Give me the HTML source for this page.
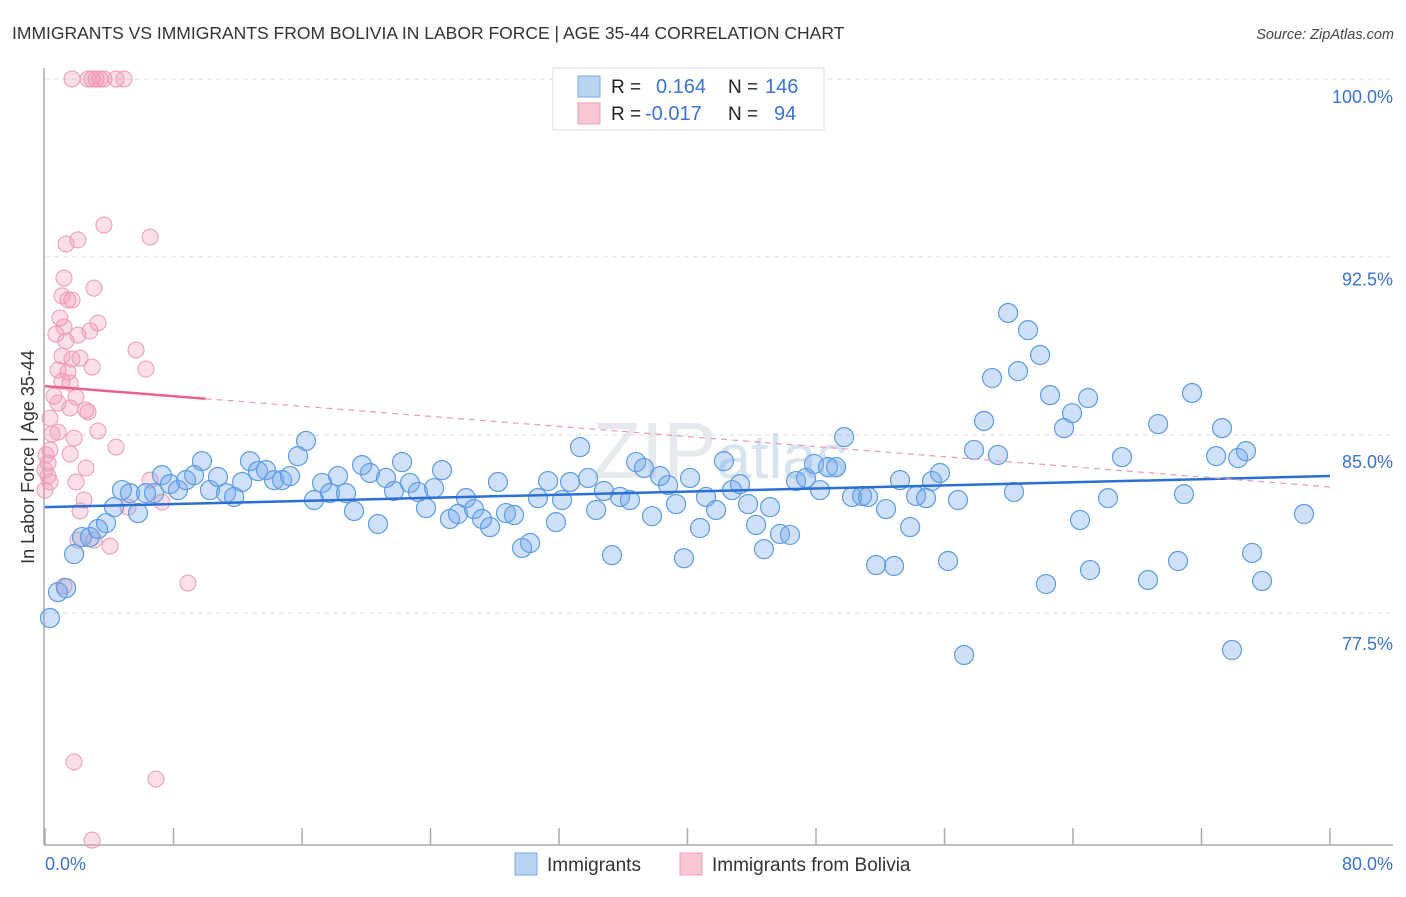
<!DOCTYPE html>
<html><head><meta charset="utf-8"><style>
body{margin:0;background:#fff;font-family:"Liberation Sans",sans-serif}
svg text{font-family:"Liberation Sans",sans-serif}
</style></head><body>
<svg id="chart" width="1406" height="892" viewBox="0 0 1406 892" xmlns="http://www.w3.org/2000/svg">
<text x="12" y="39" font-size="17.5" fill="#333">IMMIGRANTS VS IMMIGRANTS FROM BOLIVIA IN LABOR FORCE | AGE 35-44 CORRELATION CHART</text>
<text x="1394" y="39" font-size="14.5" fill="#444" text-anchor="end" font-style="italic">Source: ZipAtlas.com</text>
<text x="720" y="478" font-size="80" fill="#e6e9ee" text-anchor="middle" font-family="Liberation Serif">ZIP<tspan font-family="Liberation Sans" font-size="62" fill="#d6e4f2">atlas</tspan></text>
<g id="grid"></g>
<g id="axes"></g>
<g id="pink"></g>
<g id="blue"></g>
<g id="trends"></g>
<text transform="translate(34,457) rotate(-90)" font-size="18" fill="#333" text-anchor="middle">In Labor Force | Age 35-44</text>
<g>
<rect x="553" y="68" width="271" height="62" fill="#fff" stroke="#ddd"/>
<rect x="578" y="76" width="22" height="21" fill="#b9d3f3" stroke="#7aaae6"/>
<rect x="578" y="103" width="22" height="21" fill="#f9c6d4" stroke="#eda0b6"/>
<text x="611" y="93" font-size="19" fill="#222">R =</text>
<text x="656" y="93" font-size="20" fill="#3a74d0">0.164</text>
<text x="728" y="93" font-size="19" fill="#222">N =</text>
<text x="765" y="93" font-size="20" fill="#3a74d0">146</text>
<text x="611" y="120" font-size="19" fill="#222">R =</text>
<text x="645" y="120" font-size="20" fill="#3a74d0">-0.017</text>
<text x="728" y="120" font-size="19" fill="#222">N =</text>
<text x="774" y="120" font-size="20" fill="#3a74d0">94</text>
</g>
<g>
<rect x="515" y="853" width="22" height="22" fill="#b9d3f3" stroke="#7aaae6"/>
<text x="547" y="871" font-size="19" fill="#333">Immigrants</text>
<rect x="680" y="853" width="22" height="22" fill="#f9c6d4" stroke="#eda0b6"/>
<text x="712" y="871" font-size="19" fill="#333">Immigrants from Bolivia</text>
</g>
</svg>
<script>
const yTicks=[100,92.5,85,77.5];
const yTickLabels=["100.0%","92.5%","85.0%","77.5%"];
const xTicks=[0,8,16,24,32,40,48,56,64,72,80];
const xEndLabels=["0.0%","80.0%"];
const blueX=[0.31,0.81,1.31,1.81,2.30,2.80,3.30,3.80,4.30,4.79,5.29,5.79,6.29,6.79,7.28,7.78,8.28,8.78,9.28,9.77,10.27,10.77,11.27,11.77,12.27,12.76,13.26,13.76,14.26,14.76,15.25,15.75,16.25,16.75,17.25,17.74,18.24,18.74,19.24,19.74,20.23,20.73,21.23,21.73,22.23,22.72,23.22,23.72,24.22,24.72,25.21,25.71,26.21,26.71,27.21,27.71,28.20,28.70,29.20,29.70,30.20,30.69,31.32,31.81,32.19,32.69,33.31,33.81,34.31,34.80,35.30,35.80,36.42,36.80,37.29,37.79,38.29,38.79,39.29,39.78,40.16,40.78,41.15,41.78,42.27,42.77,43.27,43.77,44.27,44.76,45.14,45.76,46.38,46.76,47.38,47.88,48.25,48.75,49.25,49.75,50.24,50.87,51.24,51.74,52.36,52.86,53.23,53.86,54.23,54.85,55.22,55.72,56.22,56.84,57.22,57.84,58.46,58.96,59.33,59.96,60.33,60.58,61.20,61.95,62.32,62.57,63.44,63.94,64.44,65.06,64.94,66.18,67.05,68.67,69.30,70.54,70.91,71.41,72.91,73.28,73.90,74.28,74.77,75.15,75.77,78.38];
const blueY=[77.29,78.38,78.55,79.98,80.70,80.70,81.04,81.29,81.96,82.68,82.55,81.71,82.55,82.55,83.31,82.93,82.68,83.10,83.31,83.90,82.68,83.23,82.55,82.39,83.02,83.90,83.48,83.52,83.10,83.10,83.27,84.11,84.75,82.26,82.98,82.55,83.27,82.55,81.80,83.73,83.40,81.25,83.19,82.64,83.86,82.98,82.60,81.92,82.76,83.52,81.46,81.67,82.34,81.88,81.46,81.12,83.02,81.71,81.63,80.24,80.45,82.34,83.06,81.33,82.26,83.02,84.49,83.19,81.84,82.64,79.94,82.39,82.26,83.86,83.61,81.58,83.27,82.89,82.09,79.81,83.19,81.08,82.39,81.84,83.90,82.68,82.93,82.09,81.21,80.19,81.96,80.83,80.79,83.06,83.19,83.78,82.68,83.65,83.65,84.91,82.39,82.43,82.39,79.52,81.88,79.48,83.10,81.12,82.43,82.34,83.06,83.40,79.69,82.26,75.73,84.37,85.59,87.40,84.16,90.14,82.60,87.69,89.42,88.37,78.72,86.68,85.29,85.92,81.42,79.31,86.56,82.34,84.07,78.89,85.46,79.69,82.51,86.77,84.11,85.29,75.94,84.03,84.32,80.03,78.85,81.67];
const pinkX=[1.68,2.68,2.93,3.18,3.42,3.67,4.42,4.92,3.67,6.54,2.05,1.31,1.18,3.05,1.06,1.43,1.68,0.93,3.30,1.18,0.68,2.80,1.31,2.05,5.67,1.06,2.18,1.68,2.93,6.29,0.81,1.43,1.06,1.56,0.56,1.93,0.81,2.55,2.68,1.56,0.31,3.30,0.81,0.44,1.81,4.42,0.31,0.06,1.56,0.19,0,0.19,0.31,0,2.55,1.93,6.54,2.43,5.17,7.28,2.18,2.05,3.05,4.05,8.90,1.18,1.81,6.91,2.93];
const pinkY=[100,100,100,100,100,100,100,100,93.85,93.34,93.22,93.05,91.61,91.19,90.86,90.69,90.69,89.93,89.72,89.55,89.25,89.38,88.96,89.21,88.58,88.33,88.24,88.20,87.86,87.78,87.74,87.65,87.27,87.19,86.64,86.60,86.35,86.05,85.97,86.14,85.71,85.17,85.12,85.04,84.87,84.49,84.37,84.16,84.20,83.82,83.52,83.27,83.02,82.68,83.61,83.02,83.10,82.26,81.96,82.17,81.80,80.57,80.57,80.32,78.76,78.63,71.22,70.50,67.93];
const blueTrend=[81.96,83.27];
const pinkTrend=[87.06,82.81];
const pinkSolidEnd=10;

const NS="http://www.w3.org/2000/svg";
const X0=45,X1=1330,YTOP=79,PXPER=178/7.5;
function xs(v){return X0+(v/80)*(X1-X0);}
function ys(v){return YTOP+(100-v)*PXPER;}
function mk(tag,attrs,parent){const e=document.createElementNS(NS,tag);for(const k in attrs)e.setAttribute(k,attrs[k]);parent.appendChild(e);return e;}
const grid=document.getElementById('grid'),axes=document.getElementById('axes');
yTicks.forEach((t,i)=>{
  const l=mk('line',{x1:45,x2:1393,y1:ys(t),y2:ys(t),stroke:'#dcdcdc','stroke-dasharray':'5,4'},grid);
  
  
  const tx=mk('text',{x:1393,y:ys(t)+18+i*4.4+6,'font-size':18,fill:'#3a74d0','text-anchor':'end'},axes);
  tx.textContent=yTickLabels[i];
  
  
});
const ya=mk('line',{x1:44,x2:44,y1:68,y2:845,stroke:'#aaa','stroke-width':1.5},axes);


const xa=mk('line',{x1:44,x2:1393,y1:845,y2:845,stroke:'#aaa','stroke-width':1.5},axes);


xTicks.forEach(t=>{
  const tk=mk('line',{x1:xs(t),x2:xs(t),y1:828,y2:845,stroke:'#aaa','stroke-width':1.5},axes);
  
  
});
const xl0=mk('text',{x:45,y:870,'font-size':18,fill:'#3a74d0'},axes);xl0.textContent=xEndLabels[0];


const xl1=mk('text',{x:1393,y:870,'font-size':18,fill:'#3a74d0','text-anchor':'end'},axes);xl1.textContent=xEndLabels[1];


const pg=document.getElementById('pink');
pinkX.forEach((v,i)=>{
  const c=mk('circle',{cx:xs(v),cy:ys(pinkY[i]),r:8,fill:'rgba(243,150,178,0.3)',stroke:'#ec9ab3','stroke-width':1},pg);
  
  
});
const bg=document.getElementById('blue');
blueX.forEach((v,i)=>{
  const c=mk('circle',{cx:xs(v),cy:ys(blueY[i]),r:9.5,fill:'rgba(110,165,235,0.33)',stroke:'#5d9be3','stroke-width':1.2},bg);
  
  
});
const tg=document.getElementById('trends');
const bt=mk('line',{x1:xs(0),y1:ys(blueTrend[0]),x2:xs(80),y2:ys(blueTrend[1]),stroke:'#2a6fd6','stroke-width':2.5},tg);


const pAt=v=>pinkTrend[0]+(pinkTrend[1]-pinkTrend[0])*v/80;
const ps=mk('line',{x1:xs(0),y1:ys(pAt(0)),x2:xs(pinkSolidEnd),y2:ys(pAt(pinkSolidEnd)),stroke:'#e8638e','stroke-width':2.5},tg);


const pd=mk('line',{x1:xs(pinkSolidEnd),y1:ys(pAt(pinkSolidEnd)),x2:xs(80),y2:ys(pAt(80)),stroke:'#eb9ab2','stroke-width':1.2,'stroke-dasharray':'6,5'},tg);


</script>
</body></html>
